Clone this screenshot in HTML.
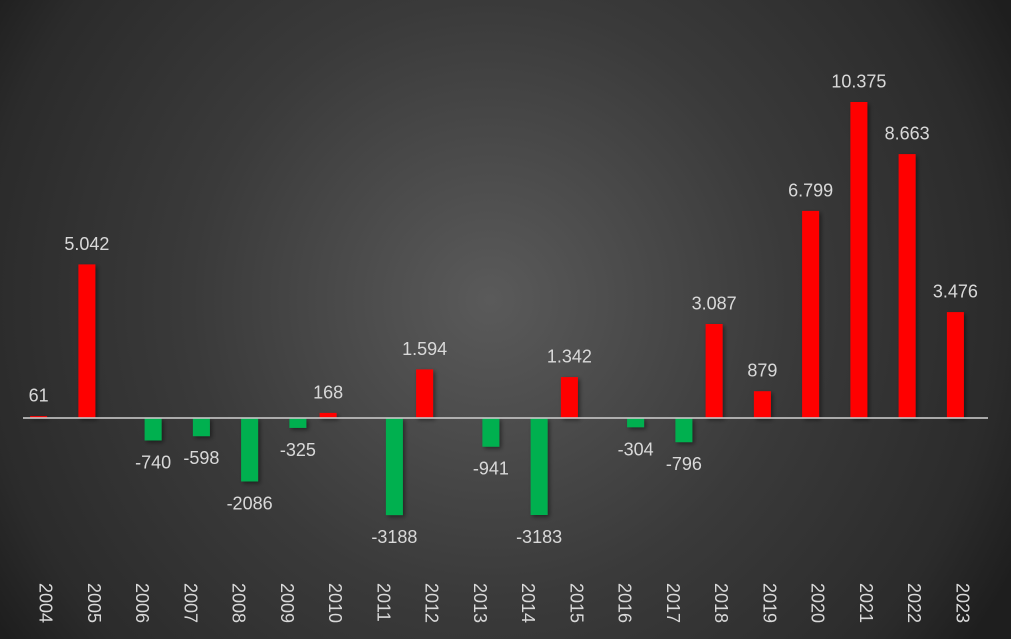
<!DOCTYPE html>
<html>
<head>
<meta charset="utf-8">
<style>
  html,body{margin:0;padding:0;}
  body{width:1011px;height:639px;overflow:hidden;
    background:radial-gradient(circle at 490px 300px,#5a5a5a 0px,#3a3a3a 300px,#2b2b2b 510px,#1e1e1e 590px);}
  svg{display:block;}
  text{font-family:"Liberation Sans",sans-serif;fill:#d9d9d9;}
</style>
</head>
<body>
<svg width="1011" height="639" viewBox="0 0 1011 639" xmlns="http://www.w3.org/2000/svg">
  <defs>
    <filter id="sh" x="-50%" y="-20%" width="200%" height="140%">
      <feDropShadow dx="2" dy="2" stdDeviation="2" flood-color="#000" flood-opacity="0.45"/>
    </filter>
  </defs>
  <g filter="url(#sh)">
    <!-- red bars: x=c-17 -->
    <rect x="30.1" y="416.1" width="17" height="1.9" fill="#ff0000"/>
    <rect x="78.4" y="264.4" width="17" height="153.6" fill="#ff0000"/>
    <rect x="319.6" y="412.9" width="17" height="5.1" fill="#ff0000"/>
    <rect x="416.1" y="369.4" width="17" height="48.6" fill="#ff0000"/>
    <rect x="560.9" y="377.1" width="17" height="40.9" fill="#ff0000"/>
    <rect x="705.6" y="324.0" width="17" height="94.0" fill="#ff0000"/>
    <rect x="753.9" y="391.2" width="17" height="26.8" fill="#ff0000"/>
    <rect x="802.1" y="210.9" width="17" height="207.1" fill="#ff0000"/>
    <rect x="850.4" y="102.0" width="17" height="316.0" fill="#ff0000"/>
    <rect x="898.6" y="154.1" width="17" height="263.9" fill="#ff0000"/>
    <rect x="946.9" y="312.1" width="17" height="105.9" fill="#ff0000"/>
    <!-- green bars: x=c+1 -->
    <rect x="144.6" y="418" width="17" height="22.5" fill="#00b050"/>
    <rect x="192.9" y="418" width="17" height="18.2" fill="#00b050"/>
    <rect x="241.1" y="418" width="17" height="63.5" fill="#00b050"/>
    <rect x="289.4" y="418" width="17" height="9.9" fill="#00b050"/>
    <rect x="385.9" y="418" width="17" height="97.1" fill="#00b050"/>
    <rect x="482.4" y="418" width="17" height="28.7" fill="#00b050"/>
    <rect x="530.6" y="418" width="17" height="97.0" fill="#00b050"/>
    <rect x="627.1" y="418" width="17" height="9.3" fill="#00b050"/>
    <rect x="675.4" y="418" width="17" height="24.2" fill="#00b050"/>
  </g>
  <!-- baseline -->
  <line x1="23" y1="418" x2="988" y2="418" stroke="#c8c8c8" stroke-opacity="0.8" stroke-width="2"/>

  <!-- value labels -->
  <g font-size="18" text-anchor="middle">
    <text x="38.6" y="401.6">61</text>
    <text x="86.9" y="249.9">5.042</text>
    <text x="328.1" y="398.4">168</text>
    <text x="424.6" y="354.9">1.594</text>
    <text x="569.4" y="362.6">1.342</text>
    <text x="714.1" y="309.5">3.087</text>
    <text x="762.4" y="376.7">879</text>
    <text x="810.6" y="196.4">6.799</text>
    <text x="858.9" y="87.5">10.375</text>
    <text x="907.1" y="139.6">8.663</text>
    <text x="955.4" y="297.6">3.476</text>

    <text x="153.1" y="468.5">-740</text>
    <text x="201.4" y="464.2">-598</text>
    <text x="249.6" y="509.5">-2086</text>
    <text x="297.9" y="455.9">-325</text>
    <text x="394.4" y="543.1">-3188</text>
    <text x="490.9" y="474.7">-941</text>
    <text x="539.1" y="543.0">-3183</text>
    <text x="635.6" y="455.3">-304</text>
    <text x="683.9" y="470.2">-796</text>
  </g>

  <!-- year labels -->
  <g font-size="18">
    <text transform="translate(39.6,583) rotate(90)">2004</text>
    <text transform="translate(87.9,583) rotate(90)">2005</text>
    <text transform="translate(136.1,583) rotate(90)">2006</text>
    <text transform="translate(184.4,583) rotate(90)">2007</text>
    <text transform="translate(232.6,583) rotate(90)">2008</text>
    <text transform="translate(280.9,583) rotate(90)">2009</text>
    <text transform="translate(329.1,583) rotate(90)">2010</text>
    <text transform="translate(377.4,583) rotate(90)">2011</text>
    <text transform="translate(425.6,583) rotate(90)">2012</text>
    <text transform="translate(473.9,583) rotate(90)">2013</text>
    <text transform="translate(522.1,583) rotate(90)">2014</text>
    <text transform="translate(570.4,583) rotate(90)">2015</text>
    <text transform="translate(618.6,583) rotate(90)">2016</text>
    <text transform="translate(666.9,583) rotate(90)">2017</text>
    <text transform="translate(715.1,583) rotate(90)">2018</text>
    <text transform="translate(763.4,583) rotate(90)">2019</text>
    <text transform="translate(811.6,583) rotate(90)">2020</text>
    <text transform="translate(859.9,583) rotate(90)">2021</text>
    <text transform="translate(908.1,583) rotate(90)">2022</text>
    <text transform="translate(956.4,583) rotate(90)">2023</text>
  </g>
</svg>
</body>
</html>
